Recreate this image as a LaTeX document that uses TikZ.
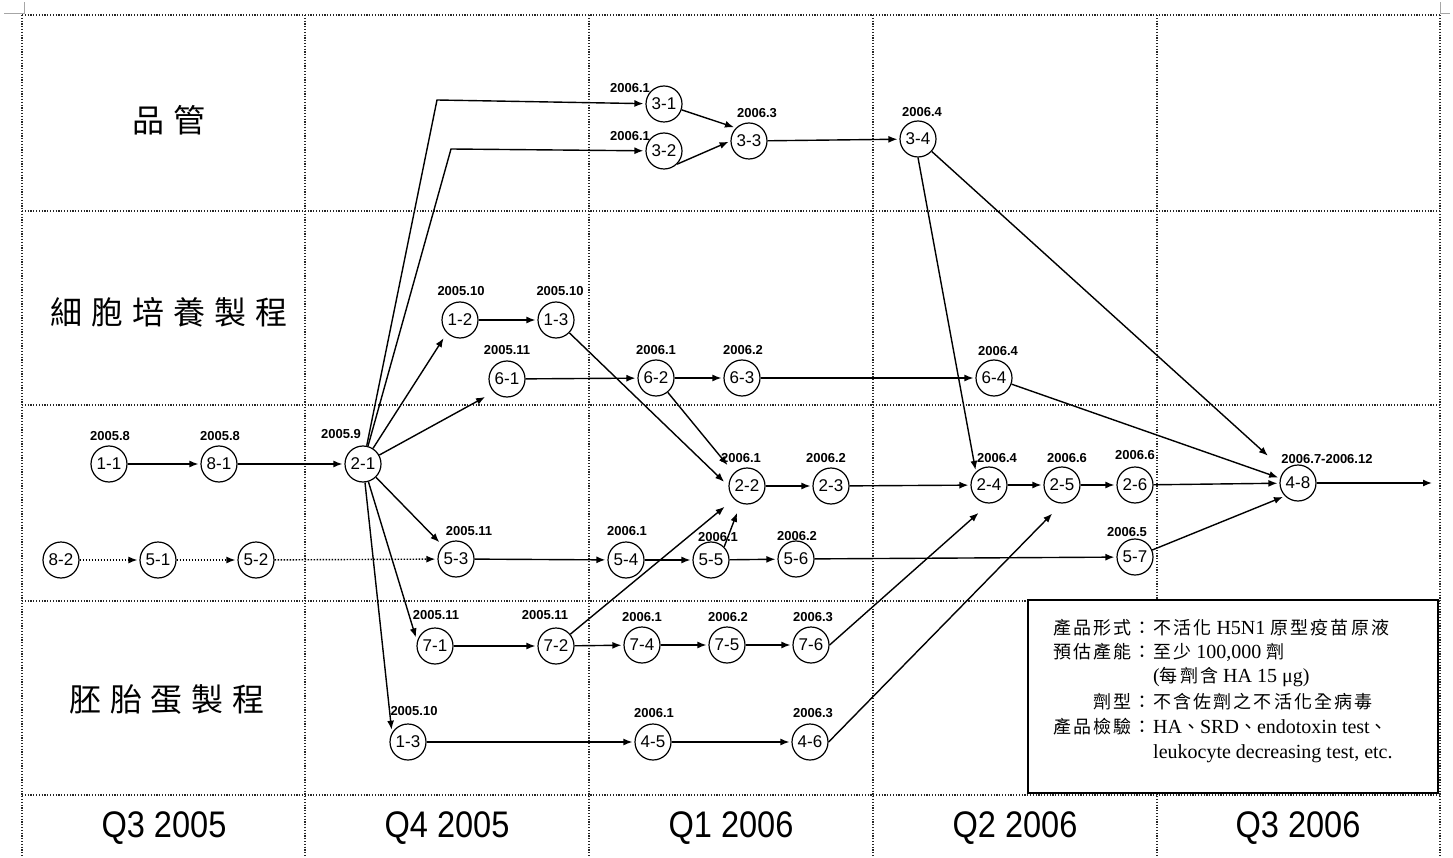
\documentclass[tikz,border=0pt]{standalone}
\usepackage{fontspec}
\usepackage{graphicx}
\setmainfont{Liberation Serif}
\setsansfont{Liberation Sans}
\newfontfamily\rowcjk{Noto Sans CJK TC}[LetterSpace=28]
\newfontfamily\boxcjkfont{Noto Sans CJK TC}[LetterSpace=12]
\newcommand\boxcj[1]{{\boxcjkfont\fontsize{18}{18}\selectfont #1}}
\usetikzlibrary{arrows.meta}
\begin{document}
\begin{tikzpicture}[x=1pt,y=-1pt,
  grid/.style={line width=1.2pt, dash pattern=on 1.2pt off 1.6pt, black!85},
  crop/.style={line width=1pt, black!35},
  ev/.style={circle, draw, fill=white, line width=1.2pt, minimum size=36pt, inner sep=0pt,
    font=\sffamily\fontsize{17}{17}\selectfont},
  date/.style={font=\sffamily\bfseries\fontsize{13}{13}\selectfont, inner sep=0pt},
  rowlab/.style={font=\rowcjk\fontsize{32}{32}\selectfont, inner sep=0pt},
  qlab/.style={font=\sffamily\fontsize{37}{37}\selectfont, inner sep=0pt},
  con/.style={line width=1.4pt, -{Latex[length=9pt,width=7pt]}, shorten >=2pt},
  dcon/.style={con, dash pattern=on 1.5pt off 1.5pt},
  boxtxt/.style={font=\rmfamily\fontsize{20}{20}\selectfont, inner sep=0pt},
  ]
\useasboundingbox (0,0) rectangle (1453,858);
% crop marks
\draw[crop] (4,14) -- (24,14) -- (24,2);
\draw[crop] (1450,14) -- (1440,14) -- (1440,2);
% grid
\foreach \x in {22,305,589,873,1157,1440} \draw[grid] (\x,15) -- (\x,858);
\foreach \y in {15,211,405,601,795} \draw[grid] (22,\y) -- (1440,\y);

% row labels
\node[rowlab] (r1) at (169,120) {品管};
\node[rowlab] (r2) at (169,312) {細胞培養製程};
\node[rowlab] (r4) at (167,700) {胚胎蛋製程};

% quarter labels
\node[qlab] (q1) at (164,828) {\scalebox{0.88}[1]{Q3 2005}};
\node[qlab] (q2) at (447,828) {\scalebox{0.88}[1]{Q4 2005}};
\node[qlab] (q3) at (731,828) {\scalebox{0.88}[1]{Q1 2006}};
\node[qlab] (q4) at (1015,828) {\scalebox{0.88}[1]{Q2 2006}};
\node[qlab] (q5) at (1298,828) {\scalebox{0.88}[1]{Q3 2006}};

% event nodes
\node[ev] (n31) at (664,104) {3-1};
\node[ev] (n32) at (664,151) {3-2};
\node[ev] (n33) at (749,141) {3-3};
\node[ev] (n34) at (918,139) {3-4};
\node[ev] (n12) at (460,320) {1-2};
\node[ev] (n13a) at (556,320) {1-3};
\node[ev] (n61) at (507,379) {6-1};
\node[ev] (n62) at (656,378) {6-2};
\node[ev] (n63) at (742,378) {6-3};
\node[ev] (n64) at (994,378) {6-4};
\node[ev] (n11) at (109,464) {1-1};
\node[ev] (n81) at (219,464) {8-1};
\node[ev] (n21) at (363,464) {2-1};
\node[ev] (n22) at (747,486) {2-2};
\node[ev] (n23) at (831,486) {2-3};
\node[ev] (n24) at (989,485) {2-4};
\node[ev] (n25) at (1062,485) {2-5};
\node[ev] (n26) at (1135,485) {2-6};
\node[ev] (n48) at (1298,483) {4-8};
\node[ev] (n82) at (61,560) {8-2};
\node[ev] (n51) at (158,560) {5-1};
\node[ev] (n52) at (256,560) {5-2};
\node[ev] (n53) at (456,559) {5-3};
\node[ev] (n54) at (626,560) {5-4};
\node[ev] (n55) at (711,560) {5-5};
\node[ev] (n56) at (796,559) {5-6};
\node[ev] (n57) at (1135,557) {5-7};
\node[ev] (n71) at (435,646) {7-1};
\node[ev] (n72) at (556,646) {7-2};
\node[ev] (n74) at (642,645) {7-4};
\node[ev] (n75) at (727,645) {7-5};
\node[ev] (n76) at (811,645) {7-6};
\node[ev] (n13b) at (408,742) {1-3};
\node[ev] (n45) at (653,742) {4-5};
\node[ev] (n46) at (810,742) {4-6};

% date labels
\node[date] (d31) at (630,88) {2006.1};
\node[date] (d32) at (630,136) {2006.1};
\node[date] (d33) at (757,113) {2006.3};
\node[date] (d34) at (922,112) {2006.4};
\node[date] (d12) at (461,291) {2005.10};
\node[date] (d13a) at (560,291) {2005.10};
\node[date] (d61) at (507,350) {2005.11};
\node[date] (d62) at (656,350) {2006.1};
\node[date] (d63) at (743,350) {2006.2};
\node[date] (d64) at (998,351) {2006.4};
\node[date] (d11) at (110,436) {2005.8};
\node[date] (d81) at (220,436) {2005.8};
\node[date] (d21) at (341,434) {2005.9};
\node[date] (d22) at (741,458) {2006.1};
\node[date] (d23) at (826,458) {2006.2};
\node[date] (d24) at (997,458) {2006.4};
\node[date] (d25) at (1067,458) {2006.6};
\node[date] (d26) at (1135,455) {2006.6};
\node[date] (d48) at (1327,459) {2006.7-2006.12};
\node[date] (d53) at (469,531) {2005.11};
\node[date] (d54) at (627,531) {2006.1};
\node[date] (d55) at (718,537) {2006.1};
\node[date] (d56) at (797,536) {2006.2};
\node[date] (d57) at (1127,532) {2006.5};
\node[date] (d71) at (436,615) {2005.11};
\node[date] (d72) at (545,615) {2005.11};
\node[date] (d74) at (642,617) {2006.1};
\node[date] (d75) at (728,617) {2006.2};
\node[date] (d76) at (813,617) {2006.3};
\node[date] (d13b) at (414,711) {2005.10};
\node[date] (d45) at (654,713) {2006.1};
\node[date] (d46) at (813,713) {2006.3};

% helper coordinates
\coordinate (b31) at (437,100);
\coordinate (b32) at (451,149);
\coordinate (out) at (1434,483);

% connectors
\draw[con] (n21) -- (b31) -- (n31);
\draw[con] (n21) -- (b32) -- (n32);
\draw[con] (n31) -- (n33.north west);
\draw[con] (n32.south east) -- (n33.west);
\draw[con] (n33) -- (n34);
\draw[con] (n34.south) -- (n24.north west);
\draw[con, shorten >=22pt] (n34) -- (n48);
\draw[con, shorten >=6pt] (n21) -- (n12.south west);
\draw[con] (n12) -- (n13a);
\draw[con, shorten >=6pt] (n13a) -- (n22.west);
\draw[con, shorten >=10pt] (n21) -- (n61.south west);
\draw[con] (n61) -- (n62);
\draw[con] (n62) -- (n63);
\draw[con, shorten >=10pt] (n62) -- (n22.north west);
\draw[con] (n63) -- (n64);
\draw[con] (n64) -- (n48.165);
\draw[con] (n11) -- (n81);
\draw[con] (n81) -- (n21);
\draw[con] (n22) -- (n23);
\draw[con] (n23) -- (n24);
\draw[con] (n24) -- (n25);
\draw[con] (n25) -- (n26);
\draw[con] (n26) -- (n48);
\draw[con] (n48) -- (out);
\draw[dcon] (n82) -- (n51);
\draw[dcon] (n51) -- (n52);
\draw[dcon] (n52) -- (n53);
\draw[con, shorten >=5pt] (n21) -- (n53.north west);
\draw[con] (n53) -- (n54);
\draw[con] (n54) -- (n55);
\draw[con] (n55) -- (n56);
\draw[con, shorten >=10pt] (n55.north east) -- (n22.250);
\draw[con] (n56) -- (n57);
\draw[con] (n57) -- (n48.south west);
\draw[con, shorten >=4pt] (n21) -- (n71.165);
\draw[con] (n71) -- (n72);
\draw[con] (n72) -- (n74);
\draw[con, shorten >=12pt] (n72) -- (n22.south west);
\draw[con] (n74) -- (n75);
\draw[con] (n75) -- (n76);
\draw[con, shorten >=14pt] (n76.east) -- (n24.south);
\draw[con, shorten >=3pt] (n21) -- (n13b.150);
\draw[con] (n13b) -- (n45);
\draw[con] (n45) -- (n46);
\draw[con, shorten >=14pt] (n46.east) -- (n25.south);

% info box
\node[draw, line width=1.8pt, fill=white, minimum width=410pt, minimum height=193pt,
  anchor=north west, inner sep=0pt] (box) at (1027,599) {};
\node[boxtxt, anchor=base east] (l1) at (1152,634) {\boxcj{產品形式：}};
\node[boxtxt, anchor=base west] (c1) at (1153,634) {\boxcj{不活化} H5N1 \boxcj{原型疫苗原液}};
\node[boxtxt, anchor=base east] (l2) at (1152,658) {\boxcj{預估產能：}};
\node[boxtxt, anchor=base west] (c2) at (1153,658) {\boxcj{至少} 100,000 \boxcj{劑}};
\node[boxtxt, anchor=base west] (c3) at (1153,682) {(\boxcj{每劑含} HA 15 μg)};
\node[boxtxt, anchor=base east] (l4) at (1152,708) {\boxcj{劑型：}};
\node[boxtxt, anchor=base west] (c4) at (1153,708) {\boxcj{不含佐劑之不活化全病毒}};
\node[boxtxt, anchor=base east] (l5) at (1152,733) {\boxcj{產品檢驗：}};
\node[boxtxt, anchor=base west] (c5) at (1153,733) {HA\boxcj{、}SRD\boxcj{、}endotoxin test\boxcj{、}};
\node[boxtxt, anchor=base west] (c6) at (1153,758) {leukocyte decreasing test, etc.};
\end{tikzpicture}
\end{document}
